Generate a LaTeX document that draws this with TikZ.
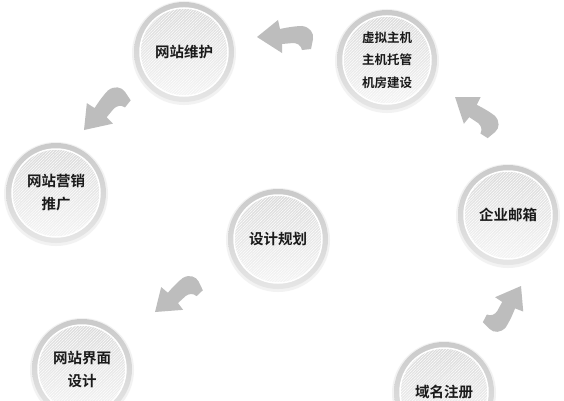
\documentclass[tikz,border=0pt]{standalone}
\usepackage{fontspec}
\setmainfont{Noto Sans CJK SC}[BoldFont={Noto Sans CJK SC Bold}]
\usetikzlibrary{backgrounds,patterns.meta}
\definecolor{facetop}{HTML}{DADADA}
\definecolor{facebot}{HTML}{F4F4F4}
\definecolor{ringtop}{HTML}{CACACA}
\definecolor{ringbot}{HTML}{E6E6E6}
\definecolor{haloc}{HTML}{F2F2F2}
\definecolor{arrowcol}{HTML}{BDBDBD}
\definecolor{textc}{HTML}{1A1A1A}
\begin{document}
\begin{tikzpicture}[x=1pt,y=1pt,
  disc/.style={circle, minimum size=88pt, inner sep=0pt, align=center,
    top color=facetop, bottom color=facebot, draw=white, line width=1.5pt,
    postaction={pattern={Lines[angle=45,distance=2pt,line width=0.5pt]}, pattern color=white, fill opacity=0.4},
    font=\bfseries\fontsize{14.5}{23}\selectfont, text=textc},
  smalltext/.style={font=\bfseries\fontsize{12.5}{22.5}\selectfont},
  arrowfill/.style={fill=arrowcol},
  curvarrow/.pic={\fill[arrowfill] (0,0) -- (21,17) -- (23,8)
      .. controls (32,10) and (40,11) .. (45,11)
      .. controls (53,10) and (57,4) .. (56,-2) -- (54,-12) -- (45,-13)
      .. controls (44,-8) and (40,-6) .. (36,-6) -- (25,-7) -- (25,-16) -- cycle;}
]
\useasboundingbox (0,0) rectangle (564,400);

\node[disc] (weihu) at (184,348) {网站维护};
\node[disc,smalltext] (zhuji) at (387,340) {虚拟主机\\主机托管\\机房建设};
\node[disc] (yingxiao) at (56,207) {网站营销\\推广};
\node[disc] (youxiang) at (508,185) {企业邮箱};
\node[disc] (guihua) at (278,161) {设计规划};
\node[disc] (jiemian) at (82,31) {网站界面\\设计};
\node[disc] (yuming) at (444,8) {域名注册};

\begin{scope}[on background layer]
  \fill[white] (0,0) rectangle (564,400);
  \foreach \n in {weihu,zhuji,yingxiao,youxiang,guihua,jiemian,yuming} {
    \fill[haloc] ([yshift=-1pt]\n.center) circle (52);
    \shade[top color=ringtop, bottom color=ringbot] (\n.center) circle (50);
  }
\end{scope}

\pic at (257,363) {curvarrow};
\pic[rotate=-39, scale=0.95] at (455,303) {curvarrow};
\pic[rotate=-124, scale=0.95] at (521,114) {curvarrow};
\pic[rotate=45, scale=1.0] at (84,270) {curvarrow};
\pic[rotate=37, scale=0.95] at (155,88) {curvarrow};
\end{tikzpicture}
\end{document}
